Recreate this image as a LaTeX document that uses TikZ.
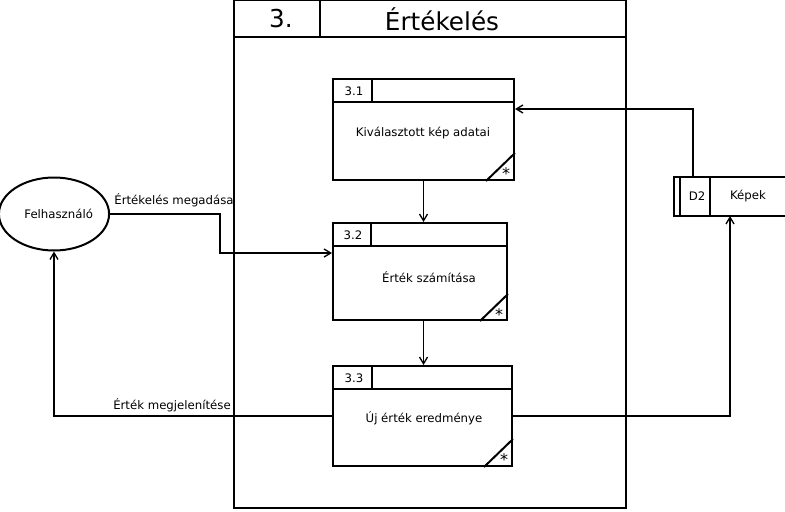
\documentclass[tikz,border=0pt]{standalone}
\usepackage{fontspec}
\setmainfont{DejaVu Sans}
\usetikzlibrary{shapes.geometric,arrows.meta}

\begin{document}
\begin{tikzpicture}[x=0.75pt,y=-0.75pt,line width=1.5pt,
  proc/.style={draw,rectangle,inner sep=0pt},
  flow/.style={-{Straight Barb[length=5pt,width=6pt,line width=1pt]},line width=1.4pt},
  txt/.style={inner sep=0pt,font=\fontsize{8.8}{10}\selectfont},
  star/.style={inner sep=0pt,font=\fontsize{12}{12}\selectfont},
  big/.style={inner sep=0pt,font=\fontsize{18.5}{20}\selectfont}]
\useasboundingbox (0,0) rectangle (785,511);
%% frame
\node[proc,minimum width=294pt,minimum height=381pt] (frame) at (430,254) {};
\draw ([yshift=-28.5pt]frame.north west) -- ([yshift=-28.5pt]frame.north east);
\draw ([xshift=65.25pt]frame.north west) -- ++(0,38);

%% boxes
\node[proc,minimum width=135.75pt,minimum height=75.75pt] (p31) at (423.5,129.5) {};
\node[proc,minimum width=130.5pt,minimum height=72.75pt] (p32) at (420,271.5) {};
\node[proc,minimum width=134.25pt,minimum height=75pt] (p33) at (422.5,416) {};

\draw ([yshift=-18pt]p31.north west) -- ([yshift=-18pt]p31.north east);
\draw ([xshift=30pt]p31.north west) -- ++(0,24);
\draw ([xshift=-21.75pt]p31.south east) -- ([yshift=21pt]p31.south east);

\draw ([yshift=-18pt]p32.north west) -- ([yshift=-18pt]p32.north east);
\draw ([xshift=29.25pt]p32.north west) -- ++(0,24);
\draw ([xshift=-21pt]p32.south east) -- ([yshift=20.25pt]p32.south east);

\draw ([yshift=-18pt]p33.north west) -- ([yshift=-18pt]p33.north east);
\draw ([xshift=30pt]p33.north west) -- ++(0,24);
\draw ([xshift=-21.75pt]p33.south east) -- ([yshift=21pt]p33.south east);

%% user and store
\node[draw,ellipse,minimum width=78pt,minimum height=54.75pt,txt] (user) at (54,214) {\hspace{7pt}Felhasználó};
\node[minimum width=82.5pt,minimum height=27.75pt,inner sep=0pt] (d2) at (730,196.5) {};
\draw (d2.north east) -- (d2.north west) -- (d2.south west) -- (d2.south east);
\draw ([xshift=4.5pt]d2.north west) -- ([xshift=4.5pt]d2.south west);
\draw ([xshift=27pt]d2.north west) -- ([xshift=27pt]d2.south west);

%% edges
\coordinate (c1) at (220,253);
\coordinate (c2) at (693,109);
\draw[flow] (p31.south) -- (p31.south |- p32.north);
\draw[flow] (p31.south |- p32.south) -- (p31.south |- p33.north);
\draw[flow] (user.east) -| (c1) -- (c1 -| p32.west);
\draw[flow] (p33.west) -| (user.south);
\draw[flow] (p33.east) -| (d2.south);
\draw[flow] (c2 |- d2.north) -- (c2) -- (c2 -| p31.east);

%% labels
\node[big] (n3) at (281,19) {3.};
\node[big] (title) at (442,19) {Értékelés};

\node[txt] (n31) at (354,91) {3.1};
\node[txt] (t31) at (423,133) {Kiválasztott kép adatai};
\node[star] (s31) at (506,174) {*};

\node[txt] (n32) at (353,235) {3.2};
\node[txt] (t32) at (429,277) {Érték számítása};
\node[star] (s32) at (499,315) {*};

\node[txt] (n33) at (354,378) {3.3};
\node[txt] (t33) at (424,418) {Új érték eredménye};
\node[star] (s33) at (504,460) {*};

\node[txt] (nd2) at (697,196) {D2};
\node[txt] (td2) at (748,196) {Képek};

\node[txt] (l1) at (174,200) {Értékelés megadása};
\node[txt] (l2) at (172,405) {Érték megjelenítése};
\end{tikzpicture}
\end{document}
